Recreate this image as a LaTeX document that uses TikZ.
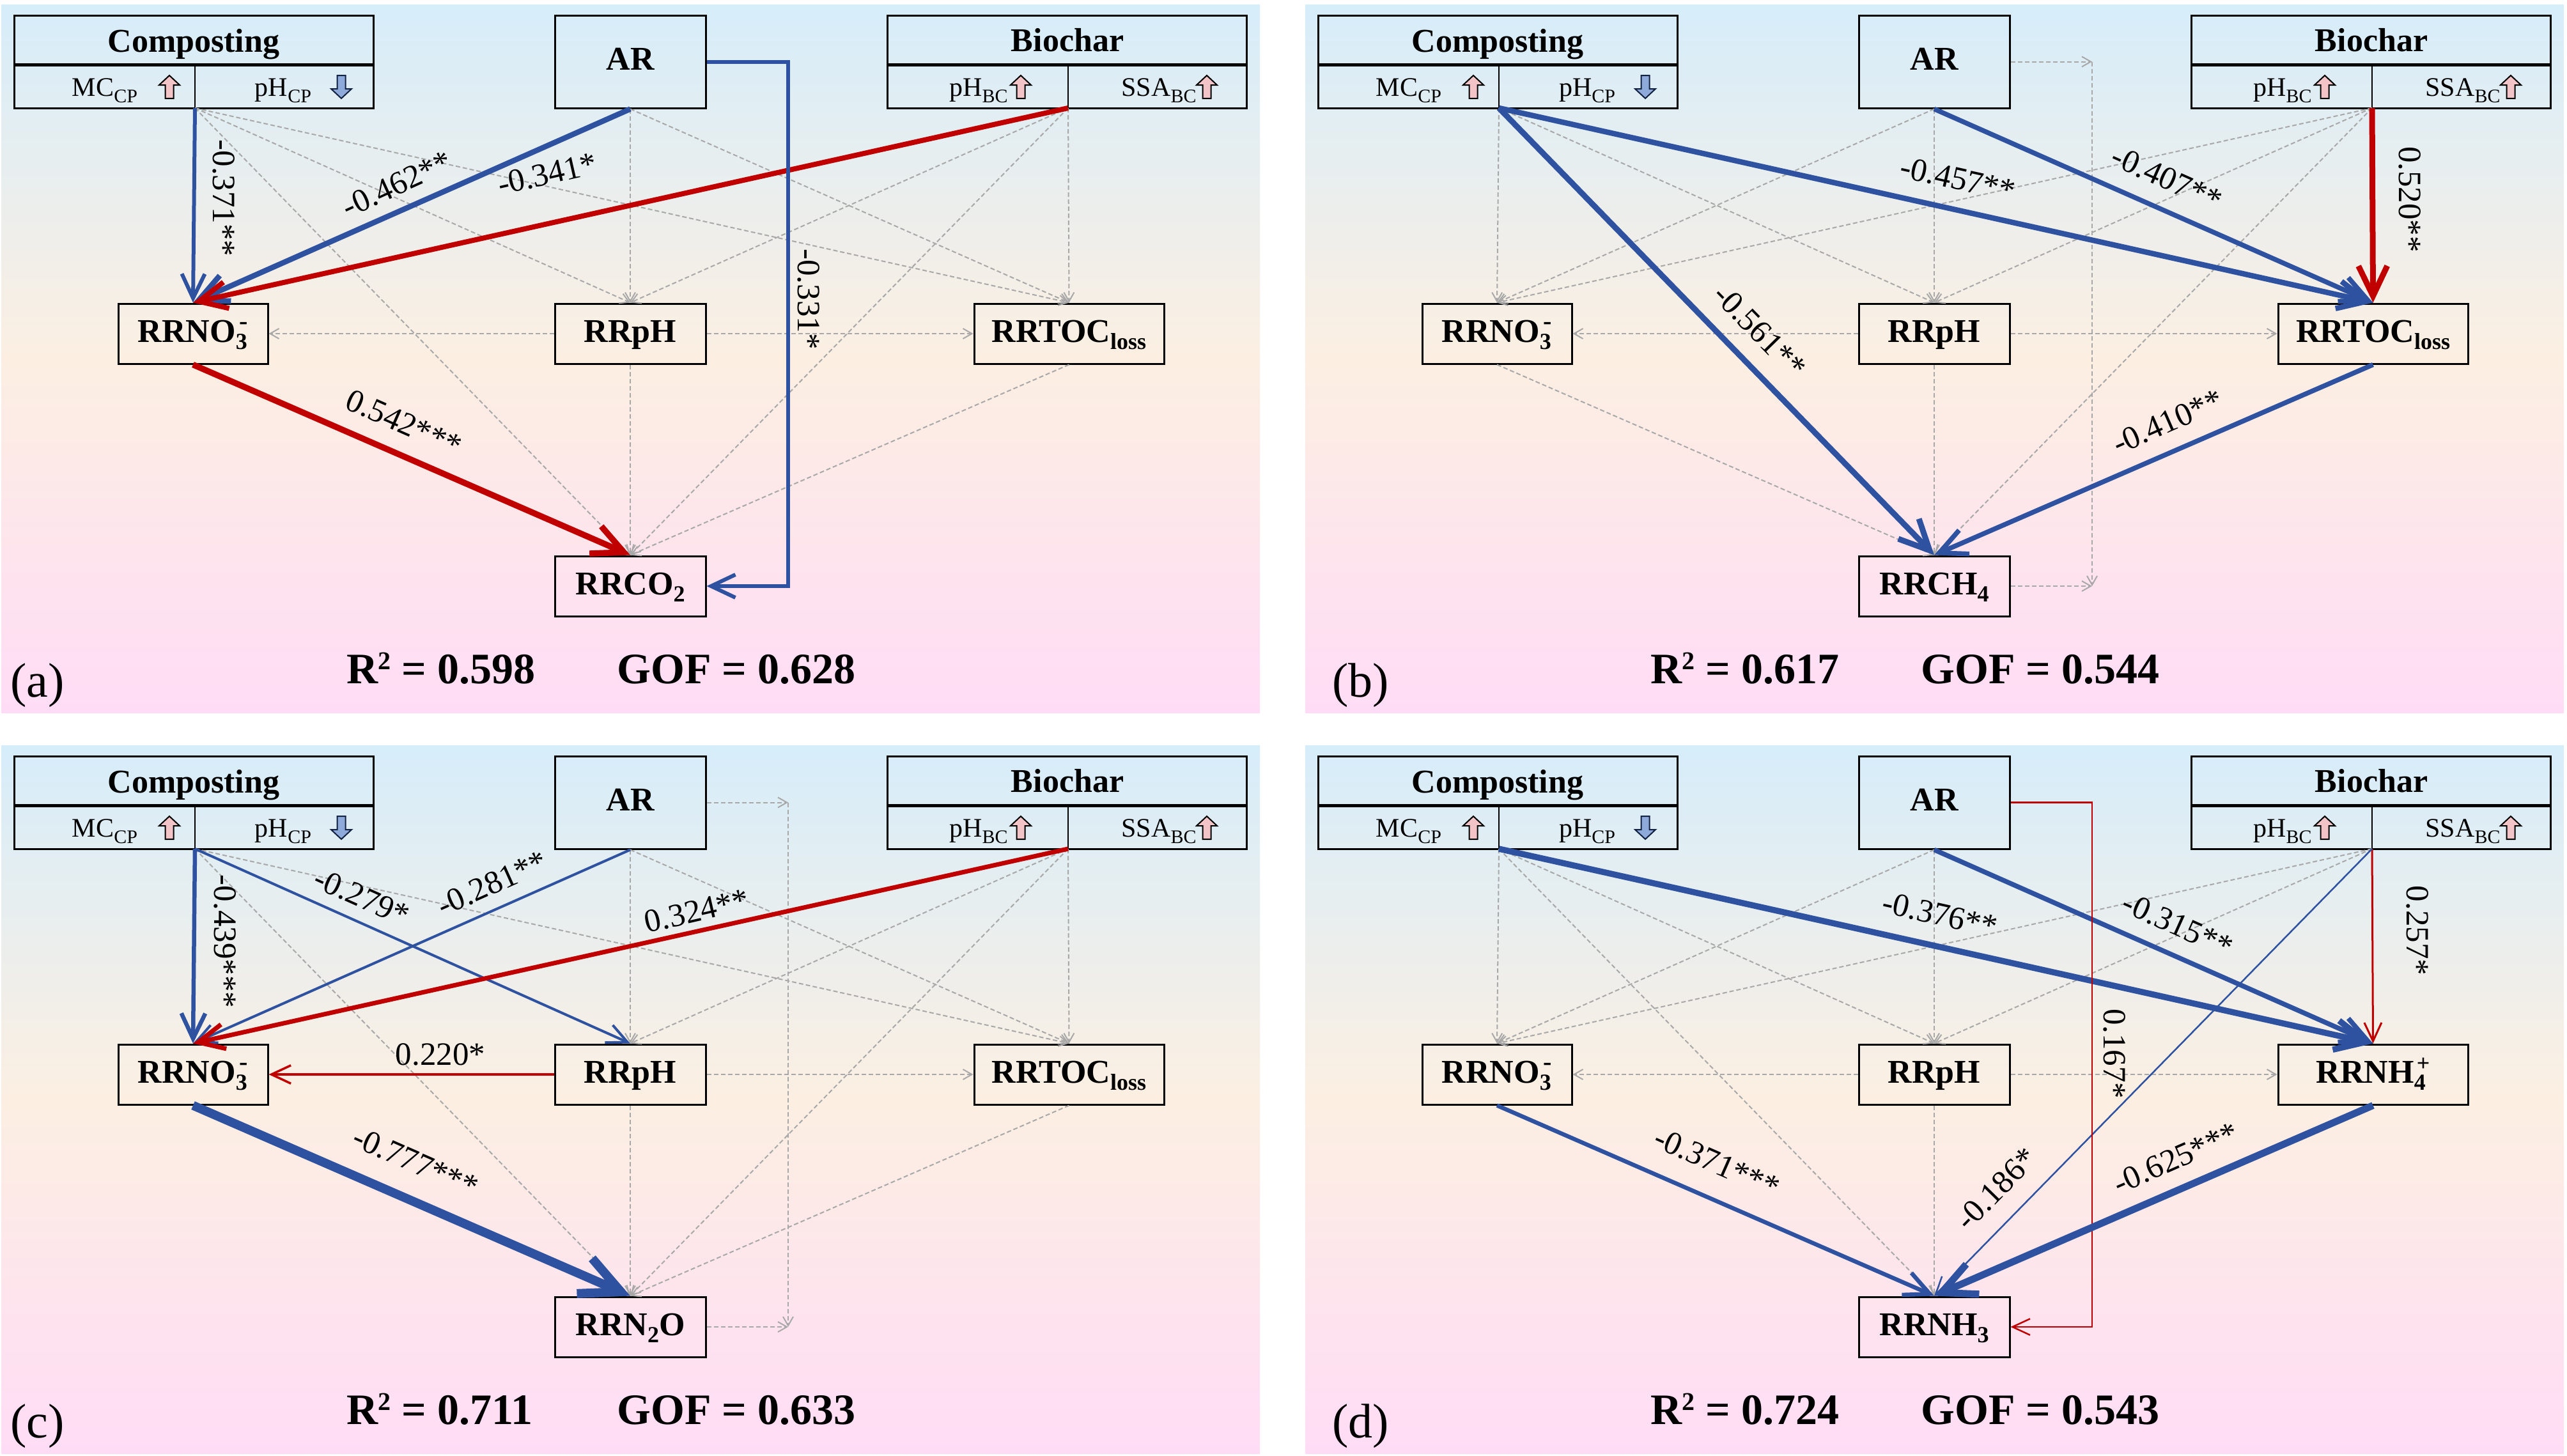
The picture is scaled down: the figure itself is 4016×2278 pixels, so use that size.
\documentclass[tikz,border=0pt]{standalone}
\usepackage{fontspec}
\setmainfont{Liberation Serif}
\usetikzlibrary{arrows.meta}
\definecolor{bgtop}{RGB}{214,237,250}
\definecolor{bgmid}{RGB}{252,239,226}
\definecolor{bgbot}{RGB}{255,220,246}
\definecolor{sblue}{RGB}{46,82,160}
\definecolor{sred}{RGB}{192,0,0}
\definecolor{dgray}{RGB}{168,168,168}
\definecolor{upfill}{RGB}{242,196,200}
\definecolor{dnfill}{RGB}{142,170,219}
\newcommand\lo[3]{\raisebox{#2}{\fontsize{#1}{#1}\selectfont #3}}
\tikzset{
  bx/.style={draw=black, line width=3pt, inner sep=0pt, text height=36pt, text depth=10pt, font=\fontsize{52pt}{60pt}\selectfont\bfseries},
  gry/.style={draw=dgray, line width=2pt, dash pattern=on 7pt off 4pt, -{Straight Barb[length=14pt,width=16pt]}},
  sig/.style={line width=#1, -{Straight Barb[length=20pt 3,width=18pt 3]}},
  bl/.style={draw=sblue},
  rd/.style={draw=sred},
  lab/.style={inner sep=0pt, font=\fontsize{51pt}{58pt}\selectfont},
  ttl/.style={inner sep=0pt, anchor=base, font=\fontsize{52pt}{60pt}\selectfont\bfseries},
  subt/.style={inner sep=0pt, anchor=base, font=\fontsize{42pt}{50pt}\selectfont},
  stat/.style={inner sep=0pt, anchor=base west, font=\fontsize{68pt}{80pt}\selectfont\bfseries},
  pan/.style={inner sep=0pt, anchor=base west, font=\fontsize{76pt}{90pt}\selectfont},
}
\newcommand\uparr[2]{\filldraw[fill=upfill, draw=black, line width=2pt, shift={(#1,#2)}] (0,-18) -- (16,-3) -- (6.5,-3) -- (6.5,18) -- (-6.5,18) -- (-6.5,-3) -- (-16,-3) -- cycle;}
\newcommand\dnarr[2]{\filldraw[fill=dnfill, draw=black!60!sblue, line width=2pt, shift={(#1,#2)}] (0,18) -- (16,3) -- (6.5,3) -- (6.5,-18) -- (-6.5,-18) -- (-6.5,3) -- (-16,3) -- cycle;}
\newcommand\panel[7]{%
\shade[top color=bgtop, bottom color=bgbot, middle color=bgmid] (2,7) rectangle (1971,1115);
\node[bx, minimum width=562pt, minimum height=145pt] (#1-comp) at (303,96.5) {};
\draw[line width=5pt] (22,101) -- (584,101);
\draw[line width=2.5pt] (305,101) -- (305,169);
\node[ttl] (#1-compt) at (303,81) {Composting};
\node[subt] (#1-mc) at (164,150) {MC\lo{30pt}{-10pt}{CP}};
\node[subt] (#1-phc) at (443,150) {pH\lo{30pt}{-10pt}{CP}};
\uparr{265}{136}
\dnarr{534}{136}
\node[bx, minimum width=236pt, minimum height=145pt] (#1-ar) at (986,96.5) {AR};
\node[bx, minimum width=562pt, minimum height=145pt] (#1-bio) at (1669,96.5) {};
\draw[line width=5pt] (1388,101) -- (1950,101);
\draw[line width=2.5pt] (1671,101) -- (1671,169);
\node[ttl] (#1-biot) at (1670,80) {Biochar};
\node[subt] (#1-phb) at (1531,150) {pH\lo{30pt}{-10pt}{BC}};
\node[subt] (#1-ssa) at (1813,150) {SSA\lo{30pt}{-10pt}{BC}};
\uparr{1597}{136}
\uparr{1888}{136}
\node[bx, minimum width=234pt, minimum height=94pt] (#1-no3) at (302,522) {RRNO\lo{36pt}{-11pt}{3}\kern-12pt\lo{40pt}{20pt}{-}};
\node[bx, minimum width=236pt, minimum height=94pt] (#1-ph) at (986,522) {RRpH};
\node[bx, minimum width=297pt, minimum height=94pt] (#1-rt) at (1672.5,522) {#3};
\node[bx, minimum width=236pt, minimum height=94pt] (#1-out) at (986,917) {#4};
\coordinate (#1-cs) at (305,169);
\coordinate (#1-bs) at (1671,169);
\coordinate (#1-e1) at (1233,96.5);
\coordinate (#1-e2) at (1233,917);
\node[stat] (#1-r2) at (542,1069) {R\lo{40pt}{22pt}{2} = #5};
\node[stat] (#1-gof) at (965,1069) {GOF = #6};
\node[pan] (#1-let) at (#7,1090) {(#2)};
}
\begin{document}
\begin{tikzpicture}[x=1pt,y=-1pt]
\useasboundingbox (0,0) rectangle (4016,2278);
\fill[white] (0,0) rectangle (4016,2278);
% ---------------- (a)
\begin{scope}
\panel{a}{a}{RRTOC\lo{36pt}{-11pt}{loss}}{RRCO\lo{36pt}{-11pt}{2}}{0.598}{0.628}{16}
\draw[gry] (a-cs) -- (a-ph.north);
\draw[gry] (a-cs) -- (a-rt.north);
\draw[gry] (a-cs) -- (a-out.north);
\draw[gry] (a-ar.south) -- (a-ph.north);
\draw[gry] (a-ar.south) -- (a-rt.north);
\draw[gry] (a-bs) -- (a-ph.north);
\draw[gry] (a-bs) -- (a-rt.north);
\draw[gry] (a-bs) -- (a-out.north);
\draw[gry] (a-ph.west) -- (a-no3.east);
\draw[gry] (a-ph.east) -- (a-rt.west);
\draw[gry] (a-ph.south) -- (a-out.north);
\draw[gry] (a-rt.south) -- (a-out.north);
\draw[bl, sig=6pt] (a-cs) -- (a-no3.north);
\draw[bl, sig=8.5pt] (a-ar.south) -- (a-no3.north);
\draw[rd, sig=8pt] (a-bs) -- (a-no3.north);
\draw[bl, sig=6pt] (a-ar.east) -- (a-e1) -- (a-e2) -- (a-out.east);
\draw[rd, sig=9.5pt] (a-no3.south) -- (a-out.north);
\node[lab, rotate=-90] (a-l1) at (350,310) {-0.371**};
\node[lab, rotate=24.6] (a-l2) at (621,288) {-0.462**};
\node[lab, rotate=12.9] (a-l3) at (856,272) {-0.341*};
\node[lab, rotate=-90] (a-l4) at (1265,468) {-0.331*};
\node[lab, rotate=-23.9] (a-l5) at (632,662) {0.542***};
\end{scope}
% ---------------- (b)
\begin{scope}[shift={(2040,0)}]
\panel{b}{b}{RRTOC\lo{36pt}{-11pt}{loss}}{RRCH\lo{36pt}{-11pt}{4}}{0.617}{0.544}{44}
\draw[gry] (b-cs) -- (b-no3.north);
\draw[gry] (b-cs) -- (b-ph.north);
\draw[gry] (b-ar.south) -- (b-no3.north);
\draw[gry] (b-ar.south) -- (b-ph.north);
\draw[gry] (b-ar.east) -- (b-e1);
\draw[gry] (b-e1) -- (b-e2);
\draw[gry] (b-out.east) -- (b-e2);
\draw[gry] (b-bs) -- (b-no3.north);
\draw[gry] (b-bs) -- (b-ph.north);
\draw[gry] (b-bs) -- (b-out.north);
\draw[gry] (b-ph.west) -- (b-no3.east);
\draw[gry] (b-ph.east) -- (b-rt.west);
\draw[gry] (b-ph.south) -- (b-out.north);
\draw[gry] (b-no3.south) -- (b-out.north);
\draw[bl, sig=8.5pt] (b-cs) -- (b-rt.north);
\draw[bl, sig=9pt] (b-cs) -- (b-out.north);
\draw[bl, sig=7.5pt] (b-ar.south) -- (b-rt.north);
\draw[rd, sig=9pt] (b-bs) -- (b-rt.north);
\draw[bl, sig=7.5pt] (b-rt.south) -- (b-out.north);
\node[lab, rotate=-12.5] (b-l1) at (1023,280) {-0.457**};
\node[lab, rotate=-24.1] (b-l2) at (1350,279) {-0.407**};
\node[lab, rotate=-90] (b-l3) at (1730,312) {0.520**};
\node[lab, rotate=-45.7] (b-l4) at (713,518) {-0.561**};
\node[lab, rotate=23.7] (b-l5) at (1351,660) {-0.410**};
\end{scope}
% ---------------- (c)
\begin{scope}[shift={(0,1159)}]
\panel{c}{c}{RRTOC\lo{36pt}{-11pt}{loss}}{RRN\lo{36pt}{-11pt}{2}O}{0.711}{0.633}{16}
\draw[gry] (c-cs) -- (c-rt.north);
\draw[gry] (c-cs) -- (c-out.north);
\draw[gry] (c-ar.south) -- (c-ph.north);
\draw[gry] (c-ar.south) -- (c-rt.north);
\draw[gry] (c-ar.east) -- (c-e1);
\draw[gry] (c-e1) -- (c-e2);
\draw[gry] (c-out.east) -- (c-e2);
\draw[gry] (c-bs) -- (c-ph.north);
\draw[gry] (c-bs) -- (c-rt.north);
\draw[gry] (c-bs) -- (c-out.north);
\draw[gry] (c-ph.east) -- (c-rt.west);
\draw[gry] (c-ph.south) -- (c-out.north);
\draw[gry] (c-rt.south) -- (c-out.north);
\draw[bl, sig=6.5pt] (c-cs) -- (c-no3.north);
\draw[bl, sig=4pt] (c-cs) -- (c-ph.north);
\draw[bl, sig=4pt] (c-ar.south) -- (c-no3.north);
\draw[rd, sig=7pt] (c-bs) -- (c-no3.north);
\draw[rd, sig=3.5pt] (c-ph.west) -- (c-no3.east);
\draw[bl, sig=14pt] (c-no3.south) -- (c-out.north);
\node[lab, rotate=-90] (c-l1) at (352,314) {-0.439***};
\node[lab, rotate=-24.1] (c-l2) at (566,244) {-0.279*};
\node[lab, rotate=24.2] (c-l3) at (770,223) {-0.281**};
\node[lab, rotate=12.9] (c-l4) at (1090,266) {0.324**};
\node[lab] (c-l5) at (689,491) {0.220*};
\node[lab, rotate=-23.8] (c-l6) at (650,659) {-0.777***};
\end{scope}
% ---------------- (d)
\begin{scope}[shift={(2040,1159)}]
\panel{d}{d}{RRNH\lo{36pt}{-11pt}{4}\kern-14pt\lo{36pt}{19pt}{+}}{RRNH\lo{36pt}{-11pt}{3}}{0.724}{0.543}{44}
\draw[gry] (d-cs) -- (d-no3.north);
\draw[gry] (d-cs) -- (d-ph.north);
\draw[gry] (d-cs) -- (d-out.north);
\draw[gry] (d-ar.south) -- (d-no3.north);
\draw[gry] (d-ar.south) -- (d-ph.north);
\draw[gry] (d-bs) -- (d-no3.north);
\draw[gry] (d-bs) -- (d-ph.north);
\draw[gry] (d-ph.west) -- (d-no3.east);
\draw[gry] (d-ph.east) -- (d-rt.west);
\draw[gry] (d-ph.south) -- (d-out.north);
\draw[bl, sig=9.5pt] (d-cs) -- (d-rt.north);
\draw[bl, sig=7.5pt] (d-ar.south) -- (d-rt.north);
\draw[rd, sig=3pt] (d-bs) -- (d-rt.north);
\draw[bl, sig=2.5pt] (d-bs) -- (d-out.north);
\draw[rd, sig=2.5pt] (d-ar.east) -- (d-e1) -- (d-e2) -- (d-out.east);
\draw[bl, sig=6.5pt] (d-no3.south) -- (d-out.north);
\draw[bl, sig=11pt] (d-rt.south) -- (d-out.north);
\node[lab, rotate=-12.6] (d-l1) at (995,272) {-0.376**};
\node[lab, rotate=-24.1] (d-l2) at (1367,288) {-0.315**};
\node[lab, rotate=-90] (d-l3) at (1742,297) {0.257*};
\node[lab, rotate=45.6] (d-l4) at (1083,701) {-0.186*};
\node[lab, rotate=-90] (d-l5) at (1268,490) {0.167*};
\node[lab, rotate=-23.8] (d-l6) at (646,660) {-0.371***};
\node[lab, rotate=23.7] (d-l7) at (1364,653) {-0.625***};
\end{scope}
\end{tikzpicture}
\end{document}
